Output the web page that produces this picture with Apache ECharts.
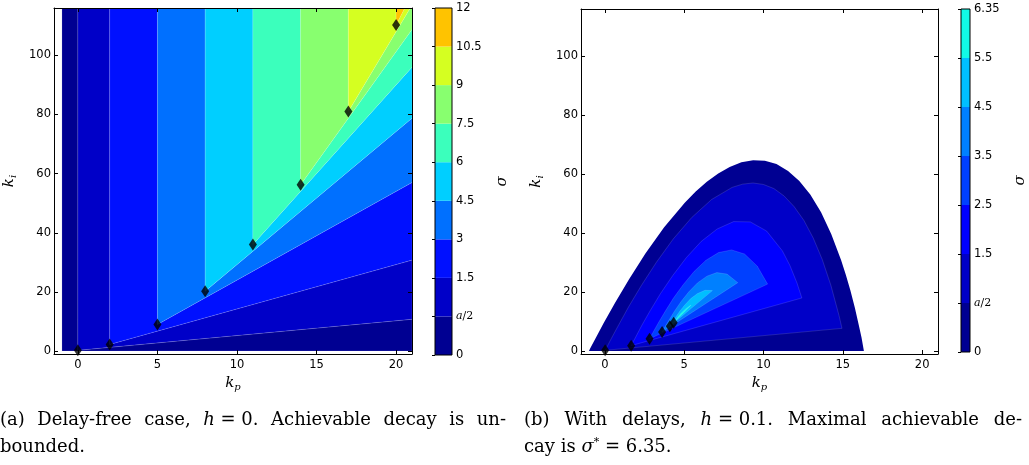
<!DOCTYPE html>
<html>
<head>
<meta charset="utf-8">
<script src="https://cdn.jsdelivr.net/npm/echarts@6/dist/echarts.min.js"></script>
<style>
  html, body { margin: 0; padding: 0; background: #fff; }
  #chart { width: 1029px; height: 465px; }
</style>
</head>
<body>
<div id="chart"></div>
<script>
// ---------- data ----------
var kpTicks = [0, 5, 10, 15, 20];
var kiTicks = [0, 20, 40, 60, 80, 100];

// (a) delay-free: contour levels and the colorbar labels
var levelsA = [0, 0.5, 1.5, 3, 4.5, 6, 7.5, 9, 10.5, 12];
var levelLabelsA = ['0', 'a/2', '1.5', '3', '4.5', '6', '7.5', '9', '10.5', '12'];
// each level's contour: vertical edge at kp, its corner (kp, ki), and the ki where its slanted edge leaves at kp = 21
var edgeKpA = [-1, 0, 2, 5, 8, 11, 14, 17, 20];
var edgeKiA = [0, 0.25, 2.25, 9, 20.25, 36, 56.25, 81, 110.25];
var rightKiA = [0, 10.75, 30.75, 57, 78.75, 96, 108.75, 117, 120.75];
var rightKpA = 21;
// optimal gains (diamonds)
var optKpA = [0, 2, 5, 8, 11, 14, 17, 20];
var optKiA = [0.25, 2.25, 9, 20.25, 36, 56.25, 81, 110.25];

// (b) h = 0.1: contour levels, colorbar labels and the closed contours (kp, ki)
var levelsB = [0, 0.5, 1.5, 2.5, 3.5, 4.5, 5.5, 6.35];
var levelLabelsB = ['0', 'a/2', '1.5', '2.5', '3.5', '4.5', '5.5', '6.35'];
var sigma0B = [[-1, 0], [-0.9, 1.1], [-0.58, 4.32], [-0.07, 9.48], [0.64, 16.3], [1.52, 24.3], [2.56, 33.1],
  [3.74, 42.0], [5.04, 50.3], [5.73, 54.1], [6.43, 57.4], [7.15, 60.2], [7.87, 62.4], [8.61, 64.0],
  [9.35, 64.7], [10.09, 64.5], [10.82, 63.4], [11.55, 61.1], [12.26, 57.7], [12.95, 53.1], [13.63, 47.1],
  [14.27, 39.7], [14.89, 30.9], [15.19, 25.9], [15.48, 20.5], [15.76, 14.7], [16.02, 8.5], [16.18, 4.6], [16.33, 0]];
var sigma05B = [[0.02, 0.25], [0.12, 1.24], [0.4, 4.16], [0.87, 8.84], [1.5, 15.0], [2.3, 22.2], [3.25, 30.1],
  [4.31, 38.0], [5.48, 45.3], [6.73, 51.4], [8.02, 55.5], [8.68, 56.6], [9.34, 57.0], [10.0, 56.5],
  [10.66, 55.1], [11.3, 52.6], [11.93, 49.0], [12.55, 44.3], [13.14, 38.3], [13.71, 31.0], [14.25, 22.3],
  [14.76, 12.1], [14.95, 7.7]];
var sigma15B = [[1.66, 1.84], [1.97, 5.0], [2.34, 8.8], [2.86, 13.7], [3.51, 19.5], [4.28, 25.6], [5.14, 31.7],
  [6.08, 37.2], [7.08, 41.4], [8.12, 43.9], [9.17, 43.8], [10.2, 40.7], [11.19, 34.0], [11.67, 29.0],
  [12.12, 23.0], [12.42, 18.0]];
var sigma25B = [[2.82, 4.14], [3.07, 6.63], [3.38, 9.6], [3.8, 13.4], [4.32, 17.9], [4.94, 22.5], [5.63, 27.0],
  [6.38, 30.8], [7.17, 33.4], [7.99, 34.3], [8.81, 32.9], [9.61, 28.8], [10.26, 22.7]];
var sigma35B = [[3.61, 6.47], [3.81, 8.38], [4.39, 13.5], [4.81, 16.8], [5.3, 20.1], [5.84, 23.1], [6.44, 25.4],
  [7.06, 26.6], [7.7, 26.1], [8.38, 23.2]];
var sigma45B = [[4.1, 8.39], [4.26, 9.78], [4.71, 13.4], [5.04, 15.6], [5.42, 17.8], [5.85, 19.5], [6.31, 20.6],
  [6.78, 20.5]];
var sigma55B = [[4.34, 9.6], [4.47, 10.5], [4.62, 11.6], [4.82, 12.9], [5.08, 14.2], [5.37, 15.4], [5.43, 15.55]];
var optKpB = [0.02, 1.66, 2.82, 3.61, 4.1, 4.34];
var optKiB = [0.25, 1.84, 4.14, 6.47, 8.39, 9.6];

// ---------- styling helpers ----------
function lerp(t, pts) {
  for (var i = 1; i < pts.length; i++) {
    if (t <= pts[i][0]) {
      var a = pts[i - 1], b = pts[i];
      return a[1] + (b[1] - a[1]) * (t - a[0]) / (b[0] - a[0]);
    }
  }
  return pts[pts.length - 1][1];
}
function jet(t) {
  var r = lerp(t, [[0, 0], [0.35, 0], [0.66, 1], [0.89, 1], [1, 0.5]]);
  var g = lerp(t, [[0, 0], [0.125, 0], [0.375, 1], [0.64, 1], [0.91, 0], [1, 0]]);
  var b = lerp(t, [[0, 0.5], [0.11, 1], [0.34, 1], [0.65, 0], [1, 0]]);
  return 'rgb(' + Math.round(r * 255) + ',' + Math.round(g * 255) + ',' + Math.round(b * 255) + ')';
}
var CMAX = 16; // both panels share one colour scale
function bandColors(levels) {
  var out = [];
  for (var i = 0; i < levels.length - 1; i++) out.push(jet((levels[i] + levels[i + 1]) / 2 / CMAX));
  return out;
}
var colorsA = bandColors(levelsA);
var colorsB = bandColors(levelsB);

// band polygons of panel (a), built from the contour edges
var TOP = 140;
var polysA = [];
for (var i = 0; i < edgeKpA.length; i++) {
  var pts = [[edgeKpA[i], TOP], [edgeKpA[i], edgeKiA[i]], [rightKpA, rightKiA[i]]];
  if (i + 1 < edgeKpA.length) {
    pts.push([rightKpA, rightKiA[i + 1]], [edgeKpA[i + 1], edgeKiA[i + 1]], [edgeKpA[i + 1], TOP]);
  } else {
    pts.push([rightKpA, TOP]);
  }
  polysA.push(pts);
}
var polysB = [sigma0B, sigma05B, sigma15B, sigma25B, sigma35B, sigma45B, sigma55B];

var tickFont = { color: '#000', fontFamily: 'DejaVu Sans', fontSize: 11.5 };
var mathRich = {
  k: { fontFamily: 'DejaVu Serif', fontStyle: 'italic', fontSize: 15, color: '#000' },
  s: { fontFamily: 'DejaVu Serif', fontStyle: 'italic', fontSize: 10, color: '#000', padding: [8, 0, 0, 0] },
  g: { fontFamily: 'DejaVu Serif', fontStyle: 'italic', fontSize: 15, color: '#000' }
};
var cbRich = {
  m: { fontFamily: 'DejaVu Serif', fontStyle: 'italic', fontSize: 11, color: '#000' },
  n: { fontFamily: 'DejaVu Serif', fontSize: 11, color: '#000' }
};

function plotX(grid, top) {
  return {
    type: 'value', gridIndex: grid, min: -1.5, max: 21, position: top ? 'top' : 'bottom', z: 5,
    axisLine: { show: true, onZero: false, lineStyle: { color: '#000', width: 1 } },
    axisTick: { show: true, inside: true, length: 4, customValues: kpTicks, lineStyle: { color: '#000' } },
    axisLabel: Object.assign({ show: !top, customValues: kpTicks, margin: 5 }, tickFont),
    splitLine: { show: false },
    name: top ? '' : '{k|k}{s|p}', nameLocation: 'middle', nameGap: 20,
    nameTextStyle: { rich: mathRich }
  };
}
function plotY(grid, right) {
  return {
    type: 'value', gridIndex: grid, min: -1, max: 116, position: right ? 'right' : 'left', z: 5,
    axisLine: { show: true, onZero: false, lineStyle: { color: '#000', width: 1 } },
    axisTick: { show: true, inside: true, length: 4, customValues: kiTicks, lineStyle: { color: '#000' } },
    axisLabel: Object.assign({ show: !right, customValues: kiTicks, margin: 3 }, tickFont),
    splitLine: { show: false },
    name: right ? '' : '{k|k}{s|i}', nameLocation: 'middle', nameGap: 36, nameRotate: 90,
    nameTextStyle: { rich: mathRich }
  };
}
function cbX(grid) {
  return { type: 'value', gridIndex: grid, min: 0, max: 1, show: false };
}
function cbY(grid, labels) {
  return {
    type: 'value', gridIndex: grid, min: 0, max: labels.length - 1, interval: 1, position: 'right', z: 5,
    axisLine: { show: false },
    axisTick: { show: true, inside: true, length: 3, lineStyle: { color: '#000' } },
    axisLabel: Object.assign({
      margin: 4,
      formatter: function (v) {
        var s = labels[Math.round(v)];
        return s === 'a/2' ? '{m|a}{n|/2}' : s;
      },
      rich: cbRich
    }, tickFont),
    splitLine: { show: false },
    name: '{g|σ}', nameLocation: 'middle', nameGap: 43, nameRotate: 90,
    nameTextStyle: { rich: mathRich }
  };
}

function contourSeries(ax, polys, colors, seamFrom) {
  return {
    type: 'custom', xAxisIndex: ax, yAxisIndex: ax, clip: true, silent: true, z: 2,
    data: polys.map(function (p, i) { return [i]; }),
    renderItem: function (params, api) {
      var i = params.dataIndex;
      var pts = polys[i].map(function (p) { return api.coord(p); });
      return {
        type: 'polygon', shape: { points: pts },
        style: {
          fill: colors[i],
          stroke: i >= seamFrom ? 'rgba(255,255,255,0.22)' : null,
          lineWidth: 0.6
        }
      };
    }
  };
}
function colorbarSeries(ax, colors) {
  return {
    type: 'custom', xAxisIndex: ax, yAxisIndex: ax, silent: true, z: 2,
    data: colors.map(function (c, i) { return [i]; }),
    renderItem: function (params, api) {
      var i = params.dataIndex;
      var p0 = api.coord([0, i]), p1 = api.coord([1, i + 1]);
      var children = [{
        type: 'rect', shape: { x: p0[0], y: p1[1], width: p1[0] - p0[0], height: p0[1] - p1[1] },
        style: { fill: colors[i] }
      }];
      if (i === colors.length - 1) {
        var b0 = api.coord([0, 0]);
        children.push({
          type: 'rect', shape: { x: b0[0], y: p1[1], width: p1[0] - b0[0], height: b0[1] - p1[1] },
          style: { fill: null, stroke: '#000', lineWidth: 1 }, z2: 10
        });
      }
      return { type: 'group', children: children };
    }
  };
}
function diamonds(ax, kp, ki) {
  return {
    type: 'scatter', xAxisIndex: ax, yAxisIndex: ax, z: 4, silent: true,
    symbol: 'diamond', symbolSize: [8, 12], itemStyle: { color: '#000' },
    data: kp.map(function (x, i) { return [x, ki[i]]; })
  };
}

// captions, set word by word so the first line of each is justified like the LaTeX original;
// '_' marks a space that does not stretch (inside math)
var CAP_FONT = 'DejaVu Serif', CAP_SIZE = 18;
var capRich = {
  i: { fontFamily: CAP_FONT, fontStyle: 'italic', fontSize: CAP_SIZE },
  sup: { fontFamily: CAP_FONT, fontSize: 11, padding: [0, 0, 9, 0] }
};
var measureCtx = document.createElement('canvas').getContext('2d');
function wordWidth(word) {
  var re = /\{(\w+)\|([^}]*)\}|([^{]+)/g, m, w = 0;
  while ((m = re.exec(word))) {
    var st = m[1] ? capRich[m[1]] : {};
    measureCtx.font = (st.fontStyle || 'normal') + ' ' + (st.fontSize || CAP_SIZE) + 'px "' + CAP_FONT + '"';
    w += measureCtx.measureText(m[1] ? m[2] : m[3]).width;
  }
  return w;
}
function captionLine(x, y, text, justifyTo) {
  var words = text.split(' ').map(function (w) { return w.replace(/_/g, ' '); });
  var widths = words.map(wordWidth);
  measureCtx.font = 'normal ' + CAP_SIZE + 'px "' + CAP_FONT + '"';
  var gap = measureCtx.measureText(' ').width;
  if (justifyTo) {
    var total = widths.reduce(function (a, b) { return a + b; }, 0);
    gap = (justifyTo - total) / (words.length - 1);
  }
  var out = [], cx = x;
  words.forEach(function (w, k) {
    out.push({
      type: 'text', x: cx, y: y,
      style: { text: w, rich: capRich, fontFamily: CAP_FONT, fontSize: CAP_SIZE, fill: '#000', verticalAlign: 'middle' }
    });
    cx += widths[k] + gap;
  });
  return out;
}

var chart = echarts.init(document.getElementById('chart'), null, { renderer: 'canvas' });
chart.setOption({
  animation: false,
  backgroundColor: '#fff',
  grid: [
    { left: 54, top: 8, width: 358, height: 346 },
    { left: 435, top: 8, width: 17, height: 347 },
    { left: 581, top: 9, width: 357, height: 345 },
    { left: 961, top: 9, width: 17, height: 343 }
  ],
  xAxis: [plotX(0, false), plotX(0, true), cbX(1), plotX(2, false), plotX(2, true), cbX(3)],
  yAxis: [plotY(0, false), plotY(0, true), cbY(1, levelLabelsA), plotY(2, false), plotY(2, true), cbY(3, levelLabelsB)],
  series: [
    contourSeries(0, polysA, colorsA, 0),
    diamonds(0, optKpA, optKiA),
    colorbarSeries(2, colorsA),
    contourSeries(3, polysB, colorsB, 1),
    diamonds(3, optKpB, optKiB),
    colorbarSeries(5, colorsB)
  ],
  graphic: [].concat(
    captionLine(0, 420, '(a) Delay-free case, {i|h}_=_0. Achievable decay is un-', 506),
    captionLine(0, 447, 'bounded.'),
    captionLine(524, 420, '(b) With delays, {i|h}_=_0.1. Maximal achievable de-', 498),
    captionLine(524, 447, 'cay is {i|σ}{sup|*}_=_6.35.')
  )
});
window.addEventListener('resize', function () { chart.resize(); });
</script>
</body>
</html>
